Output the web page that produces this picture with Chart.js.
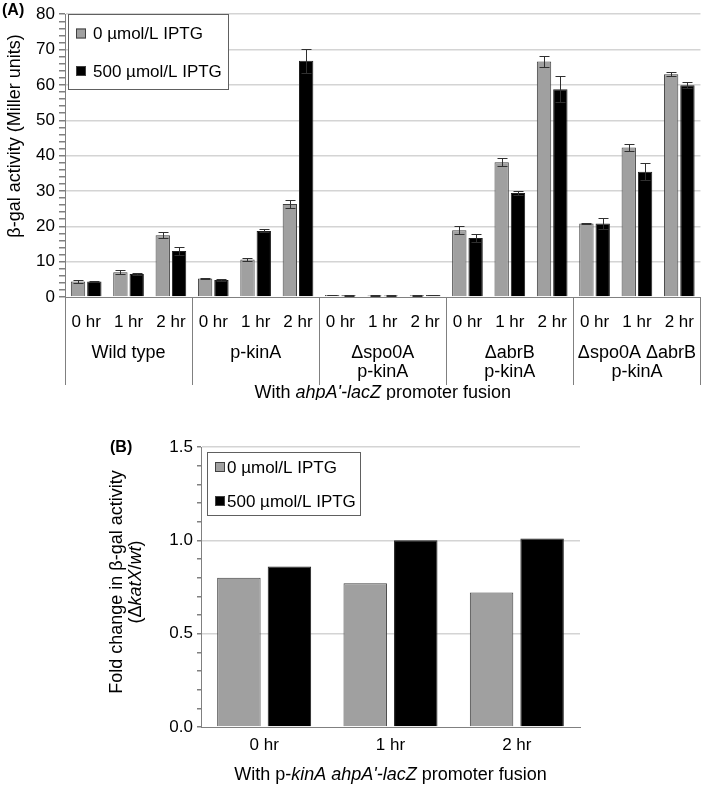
<!DOCTYPE html>
<html>
<head>
<meta charset="utf-8">
<script src="https://cdn.jsdelivr.net/npm/chart.js@4.4.0/dist/chart.umd.min.js"></script>
<style>
  body { margin: 0; background: #fff; }
  #wrapA { position: absolute; left: 0; top: 0; width: 709px; height: 400px; }
  #wrapB { position: absolute; left: 0; top: 400px; width: 709px; height: 386px; }
</style>
</head>
<body>
<div id="wrapA"><canvas id="chartA"></canvas></div>
<div id="wrapB"><canvas id="chartB"></canvas></div>
<script>
const FONT = "'Liberation Sans', Arial, sans-serif"

// panel A data
const hourLabels = ['0 hr', '1 hr', '2 hr', '0 hr', '1 hr', '2 hr', '0 hr', '1 hr', '2 hr', '0 hr', '1 hr', '2 hr', '0 hr', '1 hr', '2 hr']
const strainGroups = [['Wild type'], ['p-kinA'], ['Δspo0A', 'p-kinA'], ['ΔabrB', 'p-kinA'], ['Δspo0A ΔabrB', 'p-kinA']]
const iptg0 = [4.4, 7.0, 17.5, 5.2, 10.6, 26.3, 0.6, 0.4, 0.5, 18.9, 38.1, 66.6, 20.8, 42.3, 63.0]
const iptg0Err = [0.3, 0.5, 0.9, 0.2, 0.4, 1.0, 0.1, 0.1, 0.1, 1.1, 1.1, 1.5, 0.2, 0.9, 0.6]
const iptg500 = [4.4, 6.5, 13.0, 4.8, 18.7, 66.8, 0.5, 0.4, 0.6, 16.7, 29.4, 58.8, 20.8, 35.4, 59.9]
const iptg500Err = [0.2, 0.2, 1.1, 0.2, 0.4, 3.3, 0.1, 0.1, 0.1, 1.2, 0.6, 3.7, 1.5, 2.4, 0.8]

// panel B data
const timeLabels = ['0 hr', '1 hr', '2 hr']
const fold0 = [0.80, 0.77, 0.72]
const fold500 = [0.86, 1.00, 1.01]

const seriesNames = ['0 µmol/L IPTG', '500 µmol/L IPTG']
const GRAY = '#a0a0a0'
const GRID = '#d4d4d4'
const AXIS = '#808080'

Chart.defaults.font.family = FONT
Chart.defaults.font.size = 17
Chart.defaults.color = '#000'

// draws text made of plain/italic pieces, centred on cx
const drawRich = (ctx, parts, cx, cy, size) => {
    let total = 0
    parts.forEach((p) => {
        ctx.font = (p[1] ? 'italic ' : '') + size + 'px ' + FONT
        total += ctx.measureText(p[0]).width
    })
    let x = cx - total / 2
    ctx.textAlign = 'left'
    ctx.textBaseline = 'middle'
    parts.forEach((p) => {
        ctx.font = (p[1] ? 'italic ' : '') + size + 'px ' + FONT
        ctx.fillText(p[0], x, cy)
        x += ctx.measureText(p[0]).width
    })
}

const drawLegend = (chart, box, rows, sq, textX) => {
    const ctx = chart.ctx
    ctx.save()
    ctx.fillStyle = '#fff'
    ctx.fillRect(box.x, box.y, box.w, box.h)
    ctx.strokeStyle = '#606060'
    ctx.lineWidth = 1
    ctx.strokeRect(box.x + 0.5, box.y + 0.5, box.w, box.h)
    chart.data.datasets.forEach((ds, i) => {
        const cy = rows[i]
        ctx.fillStyle = ds.backgroundColor
        ctx.fillRect(sq.x, cy - sq.s / 2, sq.s, sq.s)
        ctx.strokeStyle = '#404040'
        ctx.strokeRect(sq.x + 0.5, cy - sq.s / 2 + 0.5, sq.s - 1, sq.s - 1)
        ctx.fillStyle = '#000'
        ctx.font = '17px ' + FONT
        ctx.textAlign = 'left'
        ctx.textBaseline = 'middle'
        ctx.fillText(ds.label, textX, cy + 1)
    })
    ctx.restore()
}

const errorBars = {
    id: 'errorBars',
    afterDatasetsDraw(chart) {
        const ctx = chart.ctx
        const y = chart.scales.y
        ctx.save()
        ctx.strokeStyle = '#303030'
        ctx.lineWidth = 1
        chart.data.datasets.forEach((ds, i) => {
            if (!ds.errors) return
            chart.getDatasetMeta(i).data.forEach((bar, j) => {
                const x = Math.round(bar.x) + 0.5
                const cap = 5
                const top = Math.round(y.getPixelForValue(ds.data[j] + ds.errors[j])) + 0.5
                const bot = Math.round(y.getPixelForValue(ds.data[j] - ds.errors[j])) + 0.5
                ctx.beginPath()
                ctx.moveTo(x, top); ctx.lineTo(x, bot)
                ctx.moveTo(x - cap, top); ctx.lineTo(x + cap, top)
                ctx.moveTo(x - cap, bot); ctx.lineTo(x + cap, bot)
                ctx.stroke()
            })
        })
        ctx.restore()
    }
}

const panelA = {
    id: 'panelA',
    afterDraw(chart) {
        const ctx = chart.ctx
        const x = chart.scales.x
        const y = chart.scales.y
        const step = x.width / hourLabels.length
        ctx.save()
        ctx.fillStyle = '#000'
        ctx.font = 'bold 16px ' + FONT
        ctx.textAlign = 'left'
        ctx.textBaseline = 'middle'
        ctx.fillText('(A)', 2, 11)

        ctx.translate(15, 136)
        ctx.rotate(-Math.PI / 2)
        ctx.font = '18px ' + FONT
        ctx.textAlign = 'center'
        ctx.fillText('β-gal activity (Miller units)', 0, 0)
        ctx.setTransform(1, 0, 0, 1, 0, 0)

        // group dividers and strain names
        ctx.strokeStyle = AXIS
        ctx.lineWidth = 1
        for (let g = 0; g <= strainGroups.length; g++) {
            const bx = Math.round(x.getPixelForValue(g * 3) - step / 2) + 0.5
            ctx.beginPath()
            ctx.moveTo(bx, y.bottom)
            ctx.lineTo(bx, 385)
            ctx.stroke()
        }
        ctx.font = '18px ' + FONT
        ctx.textAlign = 'center'
        ctx.textBaseline = 'middle'
        strainGroups.forEach((lines, g) => {
            const cx = x.getPixelForValue(g * 3 + 1)
            lines.forEach((t, k) => ctx.fillText(t, cx, 353 + k * 19))
        })
        drawRich(ctx, [['With ', false], ["ahpA'-lacZ", true], [' promoter fusion', false]], (x.left + x.right) / 2, 393, 18)
        ctx.restore()

        drawLegend(chart, { x: 68, y: 14, w: 160, h: 75 }, [33.5, 71], { x: 76, s: 10 }, 93)
    }
}

const panelB = {
    id: 'panelB',
    afterDraw(chart) {
        const ctx = chart.ctx
        const x = chart.scales.x
        ctx.save()
        ctx.fillStyle = '#000'
        ctx.font = 'bold 16px ' + FONT
        ctx.textAlign = 'left'
        ctx.textBaseline = 'middle'
        ctx.fillText('(B)', 110, 48)

        ctx.translate(117, 182)
        ctx.rotate(-Math.PI / 2)
        ctx.font = '18px ' + FONT
        ctx.textAlign = 'center'
        ctx.fillText('Fold change in β-gal activity', 0, 0)
        drawRich(ctx, [['(Δ', false], ['katX', true], ['/', false], ['wt', true], [')', false]], 0, 19, 18)
        ctx.setTransform(1, 0, 0, 1, 0, 0)

        drawRich(ctx, [['With p-', false], ["kinA ahpA'-lacZ", true], [' promoter fusion', false]], (x.left + x.right) / 2, 375, 18)
        ctx.restore()

        drawLegend(chart, { x: 207, y: 52, w: 153, h: 63 }, [67, 101], { x: 215, s: 10 }, 227)
    }
}

const chartA = new Chart(document.getElementById('chartA'), {
    type: 'bar',
    data: {
        labels: hourLabels,
        datasets: [
            { label: seriesNames[0], data: iptg0, errors: iptg0Err, backgroundColor: GRAY, borderColor: '#404040', borderWidth: 1 },
            { label: seriesNames[1], data: iptg500, errors: iptg500Err, backgroundColor: '#000', borderColor: '#202020', borderWidth: 1 }
        ]
    },
    options: {
        responsive: true,
        maintainAspectRatio: false,
        animation: false,
        categoryPercentage: 0.77,
        barPercentage: 0.88,
        layout: { padding: { top: 7, right: 2, left: 0, bottom: 0 } },
        plugins: { legend: { display: false }, tooltip: { enabled: false } },
        scales: {
            x: {
                grid: { color: 'rgba(0,0,0,0)', drawTicks: false },
                border: { color: AXIS },
                ticks: { padding: 15, maxRotation: 0, autoSkip: false },
                afterFit: (s) => { s.height = 103 }
            },
            y: {
                min: 0,
                max: 80,
                grid: {
                    color: (c) => (c.tick && c.tick.value % 10 === 0 && c.tick.value > 0 ? GRID : 'rgba(0,0,0,0)'),
                    tickColor: AXIS,
                    tickLength: 6,
                    lineWidth: 1.5
                },
                border: { color: AXIS },
                ticks: {
                    stepSize: 2,
                    autoSkip: false,
                    padding: 4,
                    callback: (v) => (v % 10 === 0 ? v : '')
                },
                afterFit: (s) => { s.width = 65 }
            }
        }
    },
    plugins: [errorBars, panelA]
})

const chartB = new Chart(document.getElementById('chartB'), {
    type: 'bar',
    data: {
        labels: timeLabels,
        datasets: [
            { label: seriesNames[0], data: fold0, backgroundColor: GRAY, borderColor: '#404040', borderWidth: 1 },
            { label: seriesNames[1], data: fold500, backgroundColor: '#000', borderColor: '#202020', borderWidth: 1 }
        ]
    },
    options: {
        responsive: true,
        maintainAspectRatio: false,
        animation: false,
        categoryPercentage: 0.8,
        barPercentage: 0.86,
        layout: { padding: { top: 47, right: 129, left: 0, bottom: 0 } },
        plugins: { legend: { display: false }, tooltip: { enabled: false } },
        scales: {
            x: {
                grid: { color: 'rgba(0,0,0,0)', drawTicks: false },
                border: { color: AXIS },
                ticks: { padding: 8, maxRotation: 0 },
                afterFit: (s) => { s.height = 59 }
            },
            y: {
                min: 0,
                max: 1.5,
                grid: {
                    color: (c) => {
                        const r = c.tick ? Math.round(c.tick.value * 10) : 0
                        return r % 5 === 0 && r > 0 ? GRID : 'rgba(0,0,0,0)'
                    },
                    tickColor: AXIS,
                    tickLength: 4,
                    lineWidth: 1.5
                },
                border: { color: AXIS },
                ticks: {
                    stepSize: 0.1,
                    autoSkip: false,
                    padding: 4,
                    callback: (v) => {
                        const r = Math.round(v * 10)
                        return r % 5 === 0 ? (r / 10).toFixed(1) : ''
                    }
                },
                afterFit: (s) => { s.width = 201 }
            }
        }
    },
    plugins: [panelB]
})
</script>
</body>
</html>
